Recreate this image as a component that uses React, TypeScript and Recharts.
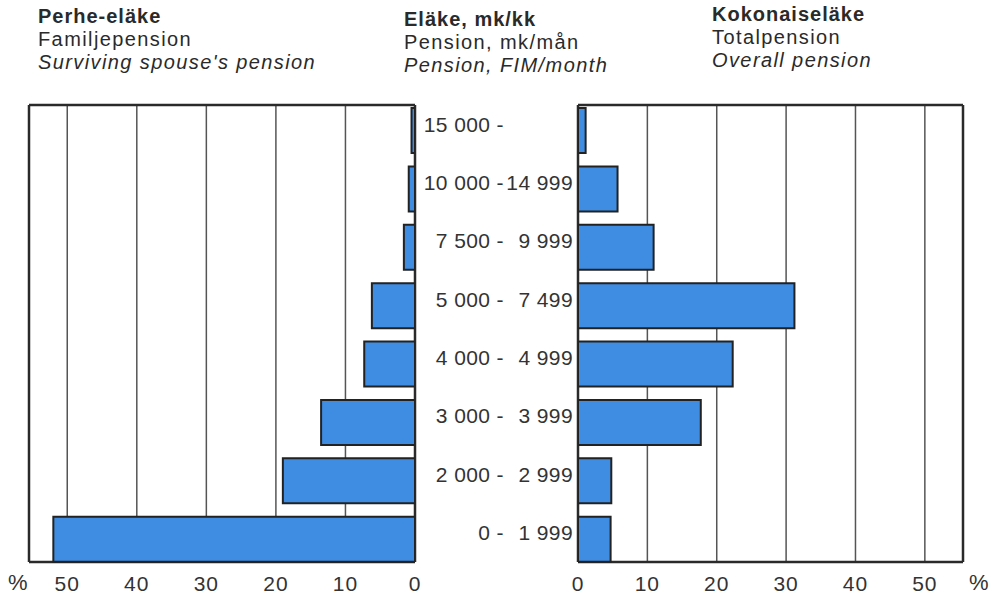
import { BarChart, Bar, XAxis, YAxis, CartesianGrid } from 'recharts'

// Pension ranges, mk/month (top to bottom)
const rangeFrom = ['15 000', '10 000', '7 500', '5 000', '4 000', '3 000', '2 000', '0']
const rangeTo = ['', '14 999', '9 999', '7 499', '4 999', '3 999', '2 999', '1 999']

// % of recipients
const survivorPct = [0.5, 0.9, 1.6, 6.2, 7.3, 13.5, 19.0, 52.0]
const totalPct = [1.1, 5.7, 10.9, 31.2, 22.3, 17.7, 4.8, 4.7]

const pctTicks = [0, 10, 20, 30, 40, 50]

const data = rangeFrom.map((f, i) => ({
  range: `${f} -|${rangeTo[i]}`,
  survivor: survivorPct[i],
  total: totalPct[i],
}))

const FONT = '"Liberation Sans", Arial, Helvetica, sans-serif'
const BLUE = '#3f8de3'
const INK = '#2a2a2a'
const DOMAIN: [number, number] = [0, 55.5]
const MARGIN_TOP = 105
const X_AXIS_H = 35
const H = 597

// frame = first and last grid line, drawn thicker
const frameH = ({ offset }: any) => [offset.top, offset.top + offset.height]
const frameV = ({ offset }: any) => [offset.left, offset.left + offset.width]

function RangeTick({ x, y, payload }: any) {
  const [from, to] = String(payload.value).split('|')
  const common = { y: y - 6, dy: '0.35em', textAnchor: 'end' as const, fontSize: 21, fill: '#333', fontFamily: FONT, letterSpacing: 0.4 }
  return (
    <g>
      <text x={x - 69} {...common}>
        {from}
      </text>
      <text x={x} {...common}>
        {to}
      </text>
    </g>
  )
}

const tickStyle = { fontSize: 21, fill: '#333', fontFamily: FONT, letterSpacing: 1 }

function Title({ left, top, lines }: { left: number; top: number; lines: string[] }) {
  return (
    <div
      style={{
        position: 'absolute',
        left,
        top,
        fontFamily: FONT,
        fontSize: 20,
        letterSpacing: 1.4,
        lineHeight: '23px',
        color: '#2a2a2a',
        whiteSpace: 'nowrap',
      }}
    >
      <div style={{ fontWeight: 700, letterSpacing: 1 }}>{lines[0]}</div>
      <div>{lines[1]}</div>
      <div style={{ fontStyle: 'italic' }}>{lines[2]}</div>
    </div>
  )
}

const pctStyle = { position: 'absolute' as const, top: 570, fontFamily: FONT, fontSize: 22, color: '#333' }

export default function App() {
  return (
    <div style={{ position: 'absolute', left: 0, top: 0, width: 1001, height: H, background: '#fff' }}>
      <Title left={38} top={5} lines={['Perhe-eläke', 'Familjepension', "Surviving spouse's pension"]} />
      <Title left={404} top={8} lines={['Eläke, mk/kk', 'Pension, mk/mån', 'Pension, FIM/month']} />
      <Title left={712} top={3} lines={['Kokonaiseläke', 'Totalpension', 'Overall pension']} />

      <div style={{ position: 'absolute', left: 0, top: 0 }}>
        <BarChart
          width={425}
          height={H}
          layout="vertical"
          data={data}
          margin={{ top: MARGIN_TOP, right: 10, bottom: 0, left: 29 }}
        >
          <CartesianGrid horizontal={false} stroke="#555" strokeWidth={1.5} />
          <XAxis
            type="number"
            domain={DOMAIN}
            ticks={pctTicks}
            interval={0}
            reversed
            allowDataOverflow
            height={X_AXIS_H}
            axisLine={false}
            tickLine={false}
            tickSize={0}
            tickMargin={14}
            tick={tickStyle}
          />
          <YAxis type="category" dataKey="range" hide padding={{ top: -4, bottom: -6 }} />
          <Bar dataKey="survivor" fill={BLUE} stroke="#222" strokeWidth={2} barSize={45} isAnimationActive={false} />
          <CartesianGrid
            fill="none"
            stroke={INK}
            strokeWidth={2.5}
            horizontalCoordinatesGenerator={frameH}
            verticalCoordinatesGenerator={frameV}
          />
        </BarChart>
      </div>

      <div style={{ position: 'absolute', left: 420, top: 0 }}>
        <BarChart
          width={581}
          height={H}
          layout="vertical"
          data={data}
          margin={{ top: MARGIN_TOP, right: 38, bottom: 0, left: 0 }}
        >
          <CartesianGrid horizontal={false} stroke="#555" strokeWidth={1.5} />
          <XAxis
            type="number"
            domain={DOMAIN}
            ticks={pctTicks}
            interval={0}
            allowDataOverflow
            height={X_AXIS_H}
            axisLine={false}
            tickLine={false}
            tickSize={0}
            tickMargin={14}
            tick={tickStyle}
          />
          <YAxis
            type="category"
            dataKey="range"
            width={158}
            axisLine={false}
            tickLine={false}
            tickSize={0}
            tickMargin={5}
            tick={<RangeTick />}
            interval={0}
            padding={{ top: -4, bottom: -6 }}
          />
          <Bar dataKey="total" fill={BLUE} stroke="#222" strokeWidth={2} barSize={45} isAnimationActive={false} />
          <CartesianGrid
            fill="none"
            stroke={INK}
            strokeWidth={2.5}
            horizontalCoordinatesGenerator={frameH}
            verticalCoordinatesGenerator={frameV}
          />
        </BarChart>
      </div>

      <div style={{ ...pctStyle, left: 8 }}>%</div>
      <div style={{ ...pctStyle, left: 969 }}>%</div>
    </div>
  )
}
